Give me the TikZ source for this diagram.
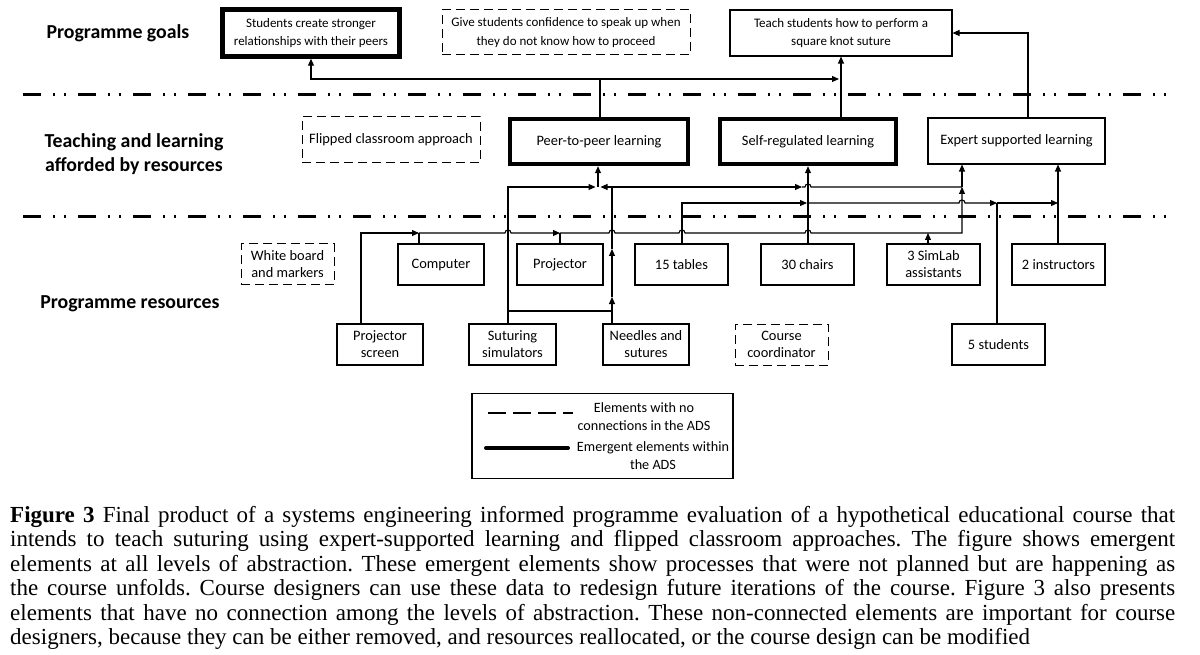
\documentclass[tikz,border=0pt]{standalone}
\usepackage{fontspec}
\setmainfont{Carlito}
\newfontfamily\capfont{Liberation Serif}
\usetikzlibrary{arrows.meta}
\begin{document}
\begin{tikzpicture}[x=1pt,y=-1pt,
  bx/.style={draw, line width=1.1pt, inner sep=0pt, align=center, font=\fontsize{14.4}{17}\selectfont},
  gbx/.style={bx, font=\fontsize{13}{18.5}\selectfont},
  thk/.style={line width=4.5pt},
  dsh/.style={line width=1pt, dash pattern=on 9pt off 5pt},
  ln/.style={line width=1.1pt},
  arr/.style={ln, -{Triangle[length=7pt,width=6pt]}},
  lvl/.style={line width=3pt, dash pattern=on 18pt off 12pt on 2pt off 9pt on 2pt off 12pt},
  lab/.style={font=\fontsize{19.8}{24}\selectfont\bfseries, align=center},
  lgt/.style={font=\fontsize{14.2}{18}\selectfont, align=center, inner sep=0pt},
]
\useasboundingbox[fill=white] (0,0) rectangle (1200,655);

% level separators
\coordinate (lv1a) at (23,95);  \coordinate (lv1b) at (1172,95);
\coordinate (lv2a) at (23,217); \coordinate (lv2b) at (1172,217);
\draw[lvl] (lv1a) -- (lv1b);
\draw[lvl] (lv2a) -- (lv2b);

% level labels
\node[lab] (lgoal) at (118,33) {Programme goals};
\node[lab] (lteach) at (134,154) {Teaching and learning\\afforded by resources};
\node[lab] (lres) at (130,304) {Programme resources};

% goals
\node[gbx, thk, minimum width=177pt, minimum height=47pt] (g1) at (311,33) {Students create stronger\\relationships with their peers};
\node[gbx, dsh, minimum width=248pt, minimum height=45pt] (g2) at (566,32.5) {Give students confidence to speak up when\\they do not know how to proceed};
\node[gbx, minimum width=222pt, minimum height=46pt] (g3) at (841,33) {Teach students how to perform a\\square knot suture};

% teaching
\node[bx, dsh, minimum width=178pt, minimum height=46pt] (t1) at (391,140) {Flipped classroom approach};
\node[bx, thk, minimum width=178pt, minimum height=45pt] (t2) at (599,141.5) {Peer-to-peer learning};
\node[bx, thk, minimum width=176pt, minimum height=45pt] (t3) at (808,141.5) {Self-regulated learning};
\node[bx, minimum width=177pt, minimum height=46pt] (t4) at (1016.5,141) {Expert supported learning};

% resources row 1
\node[bx, dsh, minimum width=93pt, minimum height=41pt] (wb) at (287.5,264.5) {White board\\and markers};
\node[bx, minimum width=86pt, minimum height=41pt] (comp) at (441,264.5) {Computer};
\node[bx, minimum width=86pt, minimum height=41pt] (proj) at (560,264.5) {Projector};
\node[bx, minimum width=93pt, minimum height=41pt] (tab) at (681.5,264.5) {15 tables};
\node[bx, minimum width=93pt, minimum height=41pt] (chairs) at (807.5,264.5) {30 chairs};
\node[bx, minimum width=93pt, minimum height=41pt] (sim) at (933.5,264.5) {3 SimLab\\assistants};
\node[bx, minimum width=93pt, minimum height=41pt] (inst) at (1058.5,264.5) {2 instructors};

% resources row 2
\node[bx, minimum width=86pt, minimum height=41pt] (ps) at (380,344.5) {Projector\\screen};
\node[bx, minimum width=87pt, minimum height=41pt] (sut) at (512.5,344.5) {Suturing\\simulators};
\node[bx, minimum width=86pt, minimum height=41pt] (need) at (646,344.5) {Needles and\\sutures};
\node[bx, dsh, minimum width=93pt, minimum height=41pt] (cc) at (781.5,344.5) {Course\\coordinator};
\node[bx, minimum width=93pt, minimum height=41pt] (stu) at (998.5,344.5) {5 students};

% --- connectors to goals
\coordinate (jg) at (600,79);
\coordinate (jg3) at (839,79);
\coordinate (je) at (1028,33);
\draw[arr] (t2.north -| jg) -- (jg) -- (jg -| g1) -- (g1.south);
\draw[arr] (jg) -- (jg3);
\draw[arr] (t3.north -| g3) -- (g3.south);
\draw[arr] (t4.north -| je) -- (je) -- (g3.east);

% --- line at y=233
\coordinate (h1a) at (361,233);
\coordinate (h1b) at (419,233);
\coordinate (h1c) at (560,233);
\coordinate (h1d) at (962,233);
\coordinate (h1s) at (928,233);
\coordinate (h2e) at (962,187);
\draw[arr] (ps.north -| h1a) -- (h1a) -- (h1b);
\draw[ln] (comp.north -| h1b) -- (h1b);
\draw[arr] (h1b) -- (505,233) .. controls +(0,-4) and +(0,-4) .. (511,233) -- (h1c);
\draw[ln] (proj.north -| h1c) -- (h1c);
\draw[arr] (h1c) -- (609,233) .. controls +(0,-4) and +(0,-4) .. (615,233)
  -- (679,233) .. controls +(0,-4) and +(0,-4) .. (685,233)
  -- (805,233) .. controls +(0,-4) and +(0,-4) .. (811,233)
  -- (h1d) -- (h2e);
\draw[arr] (h2e) -- (t4.south -| h2e);
\draw[arr] (sim.north -| h1s) -- (h1s);

% --- line at y=187
\coordinate (h2a) at (508,187);
\coordinate (h2p) at (598,187);
\coordinate (h2n) at (612,187);
\coordinate (h2c) at (802,187);
\coordinate (hn1) at (612,311);
\coordinate (hn2) at (612,297);
\coordinate (hn3) at (612,249);
\draw[arr] (sut.north -| h2a) -- (h2a) -- ([xshift=-2.5pt]h2p);
\draw[arr] (h2n) -- ([xshift=2.5pt]h2p);
\draw[arr] (h2p) -- (t2.south -| h2p);
\draw[ln] (h2a |- hn1) -- (hn1);
\draw[arr] (need.north -| hn1) -- (hn2);
\draw[arr] (hn2) -- (hn3);
\draw[ln] (hn3) -- (h2n);
\draw[arr] (h2n) -- (h2c);
\draw[ln] (h2c) -- (805,187) .. controls +(0,-4) and +(0,-4) .. (811,187) -- (h2e);

% --- line at y=203
\coordinate (h3a) at (682,203);
\coordinate (h3c) at (808,203);
\coordinate (h3s) at (997,203);
\coordinate (h3i) at (1058,203);
\draw[arr] (tab.north -| h3a) -- (h3a) -- ([xshift=-1pt]h3c);
\draw[arr] (h3c) -- (959,203) .. controls +(0,-4) and +(0,-4) .. (965,203) -- (h3s);
\draw[ln] (stu.north -| h3s) -- (h3s);
\draw[arr] (h3s) -- (h3i);
\draw[arr] (inst.north -| h3i) -- (t4.south -| h3i);
\draw[arr] (chairs.north -| h3c) -- (t3.south -| h3c);

% --- legend
\node[draw, line width=1.3pt, minimum width=261pt, minimum height=85pt, inner sep=0pt] (leg) at (602.5,436) {};
\node[lgt] (l1) at (644,417) {Elements with no\\connections in the ADS};
\node[lgt] (l2) at (653,456) {Emergent elements within\\the ADS};
\coordinate (ld1) at (488,413); \coordinate (ld2) at (573,413);
\coordinate (lt1) at (486,448); \coordinate (lt2) at (568,448);
\draw[line width=1.2pt, dash pattern=on 18pt off 7pt] (ld1) -- (ld2);
\draw[line width=4pt, line cap=round] (lt1) -- (lt2);

% --- caption
\node[anchor=north west, inner sep=0pt, text width=1165pt, align=justify,
  font=\capfont\fontsize{23}{24.5}\selectfont] (cap) at (10,506)
{\frenchspacing\hyphenpenalty=10000 \exhyphenpenalty=10000
\textbf{Figure 3} Final product of a systems engineering informed programme evaluation of a hypothetical educational course that\linebreak
intends to teach suturing using expert-supported learning and flipped classroom approaches. The figure shows emergent\linebreak
elements at all levels of abstraction. These emergent elements show processes that were not planned but are happening as\linebreak
the course unfolds. Course designers can use these data to redesign future iterations of the course. Figure 3 also presents\linebreak
elements that have no connection among the levels of abstraction. These non-connected elements are important for course\linebreak
designers, because they can be either removed, and resources reallocated, or the course design can be modified};
\end{tikzpicture}
\end{document}
